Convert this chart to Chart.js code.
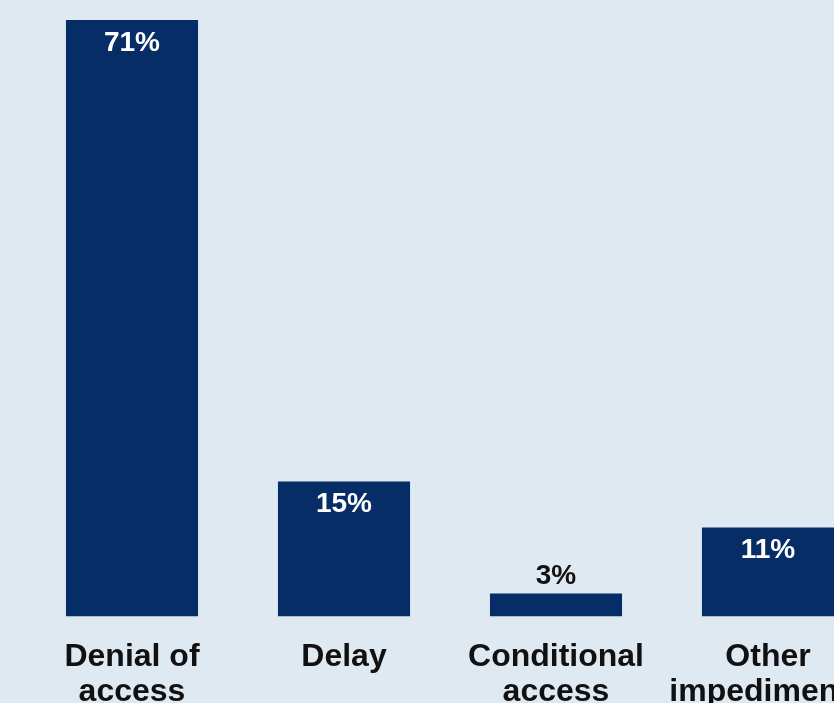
<!DOCTYPE html>
<html>
<head>
<meta charset="utf-8">
<script src="https://cdn.jsdelivr.net/npm/chart.js@4.4.1/dist/chart.umd.min.js"></script>
<style>
  html, body { margin: 0; padding: 0; width: 834px; height: 703px; overflow: hidden; background: #dfe9f2; }
  #wrap { position: absolute; left: 0; top: 0; width: 900px; height: 735px; }
</style>
</head>
<body>
<div id="wrap"><canvas id="c" width="900" height="735"></canvas></div>
<script>
const categories = [["Denial of", "access"], ["Delay"], ["Conditional", "access"], ["Other", "impediments"]];
const shares = [70.7, 16.0, 2.75, 10.55];
const shareLabels = ["71%", "15%", "3%", "11%"];

const barColor = "#062d66";

const labelPlugin = {
  id: "barLabels",
  afterDatasetsDraw(chart) {
    const ctx = chart.ctx;
    const meta = chart.getDatasetMeta(0);
    ctx.save();
    ctx.font = "bold 28px 'Liberation Sans', Arial, sans-serif";
    ctx.textAlign = "center";
    ctx.textBaseline = "middle";
    meta.data.forEach((bar, i) => {
      const v = shares[i];
      if (v > 6) {
        ctx.fillStyle = "#ffffff";
        ctx.fillText(shareLabels[i], bar.x, bar.y + 23);
      } else {
        ctx.fillStyle = "#111111";
        ctx.fillText(shareLabels[i], bar.x, bar.y - 17);
      }
    });
    ctx.restore();
  }
};

new Chart(document.getElementById("c"), {
  type: "bar",
  data: {
    labels: categories,
    datasets: [{
      data: shares,
      backgroundColor: barColor,
      borderWidth: 0,
      categoryPercentage: 1,
      barPercentage: 0.623
    }]
  },
  options: {
    responsive: false,
    animation: false,
    events: [],
    layout: { padding: { left: 26, right: 26, top: 9, bottom: 2 } },
    plugins: { legend: { display: false }, tooltip: { enabled: false }, title: { display: false } },
    scales: {
      y: { display: false, min: 0, max: 72 },
      x: {
        grid: { display: false, drawTicks: false },
        border: { display: false },
        ticks: {
          color: "#111111",
          padding: 23,
          maxRotation: 0,
          autoSkip: false,
          font: { family: "'Liberation Sans', Arial, sans-serif", size: 32, weight: "bold", lineHeight: 1.1 }
        }
      }
    }
  },
  plugins: [labelPlugin]
});
</script>
</body>
</html>
